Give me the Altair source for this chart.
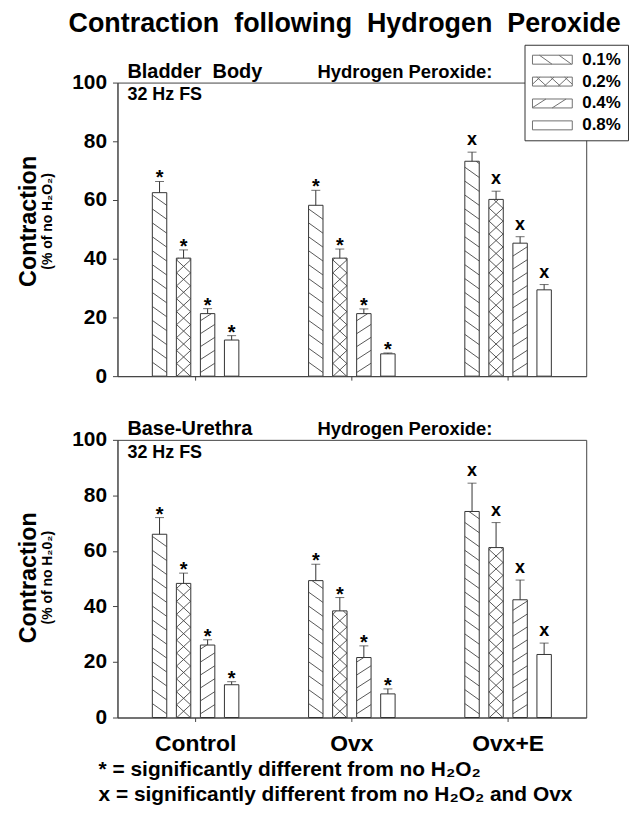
import math
import altair as alt
import pandas as pd

# ---------------- data ----------------
groups = ["Control", "Ovx", "Ovx+E"]
concentrations = ["0.1%", "0.2%", "0.4%", "0.8%"]
significance = ["*", "*", "x"]

bladder_control = [62.5, 40.2, 21.3, 12.3]
bladder_ovx = [58.2, 40.2, 21.3, 7.6]
bladder_ovx_e = [73.2, 60.2, 45.3, 29.4]
bladder_control_sem = [3.8, 2.8, 1.7, 1.5]
bladder_ovx_sem = [5.1, 3.1, 1.6, 0.3]
bladder_ovx_e_sem = [3.1, 2.8, 2.2, 1.8]

urethra_control = [66.0, 48.3, 26.1, 11.8]
urethra_ovx = [49.3, 38.4, 21.6, 8.5]
urethra_ovx_e = [74.2, 61.2, 42.4, 22.7]
urethra_control_sem = [6.0, 3.7, 1.9, 1.1]
urethra_ovx_sem = [5.9, 4.8, 4.2, 1.8]
urethra_ovx_e_sem = [10.2, 9.0, 7.1, 4.1]

# ---------------- layout / style ----------------
FONT = "Liberation Sans"
PLOT_W = 471
H_TOP = 295
H_BOT = 279
GROUP_STEP = PLOT_W / len(groups)
OFF_PAD_IN = 0.4
OFF_PAD_OUT = 0.2
BAR_STEP = 24.15
GROUP_BAND = BAR_STEP * (len(concentrations) - OFF_PAD_IN + 2 * OFF_PAD_OUT)
X_PAD_IN = 1 - GROUP_BAND / GROUP_STEP
X_PAD_OUT = X_PAD_IN / 2
BAR_W = BAR_STEP * (1 - OFF_PAD_IN)
NB = "\u00a0"

# hatch definitions: (slope in px/px, vertical period px)
HATCH = {
    "0.1%": [(10 / 14, 14)],
    "0.2%": [(13 / 14, 13), (-13 / 14, 13)],
    "0.4%": [(-9 / 14, 13)],
    "0.8%": [],
}


def hatch_segments(w, h, lines):
    segs = []
    for m, period in lines:
        c0 = h / 2 + abs(m) * w / 2
        n = int(math.ceil((h + abs(m) * w) / period)) + 1
        for k in range(n + 1):
            c = c0 - k * period
            xa = (-h / 2 - c) / m
            xb = (h / 2 - c) / m
            lo = max(-w / 2, min(xa, xb))
            hi = min(w / 2, max(xa, xb))
            if hi - lo > 1e-3:
                segs.append((lo, c + m * lo, hi, c + m * hi))
    return segs


def to_path(segs, side, rect=None):
    k = 2.0 / side
    f = lambda v: f"{v * k:.4f}"
    parts = []
    if rect is not None:
        w, h = rect
        parts.append(f"M{f(-w/2)},{f(-h/2)}L{f(w/2)},{f(-h/2)}L{f(w/2)},{f(h/2)}L{f(-w/2)},{f(h/2)}Z")
    for x1, y1, x2, y2 in segs:
        parts.append(f"M{f(x1)},{f(y1)}L{f(x2)},{f(y2)}")
    return "".join(parts) if parts else "M0,0"


def panel_df(means, sems, height):
    ppu = height / 100.0
    rows = []
    for g, mlist, slist, sym in zip(groups, means, sems, significance):
        for c, v, s in zip(concentrations, mlist, slist):
            h = v * ppu
            side = max(h, BAR_W) + 2
            rows.append(dict(group=g, conc=c, mean=v, top=v + s, mid=v / 2, sym=sym,
                             path=to_path(hatch_segments(BAR_W, h, HATCH[c]), side),
                             size=side * side))
    return pd.DataFrame(rows)


df_top = panel_df([bladder_control, bladder_ovx, bladder_ovx_e],
                  [bladder_control_sem, bladder_ovx_sem, bladder_ovx_e_sem], H_TOP)
df_bot = panel_df([urethra_control, urethra_ovx, urethra_ovx_e],
                  [urethra_control_sem, urethra_ovx_sem, urethra_ovx_e_sem], H_BOT)

SW_W, SW_H = 40, 9
SW_SIDE = SW_W + 1
swatches = [to_path(hatch_segments(SW_W, SW_H, HATCH[c]), SW_SIDE, rect=(SW_W, SW_H)) for c in concentrations]


def text_layer(text, x, y, size, align="left", angle=0, baseline="alphabetic"):
    return alt.Chart(pd.DataFrame({"t": [text]})).mark_text(
        align=align, baseline=baseline, angle=angle, fontSize=size,
        fontWeight="bold", font=FONT, color="black"
    ).encode(x=alt.value(x), y=alt.value(y), text="t:N")


def panel(df, height, name, subtitle, title_dy, show_labels, with_legend, extra):
    x_axis = alt.Axis(title=None, labels=show_labels, labelFontSize=23, labelFontWeight="bold",
                      labelPadding=11, tickSize=4, labelAngle=0, labelFont=FONT, labelColor="black")
    xenc = alt.X("group:N", sort=groups, scale=alt.Scale(paddingInner=X_PAD_IN, paddingOuter=X_PAD_OUT),
                 axis=x_axis)
    xoff = alt.XOffset("conc:N", sort=concentrations,
                       scale=alt.Scale(paddingInner=OFF_PAD_IN, paddingOuter=OFF_PAD_OUT))
    yscale = alt.Scale(domain=[0, 100], nice=False)
    yaxis = alt.Axis(title=None, values=[0, 20, 40, 60, 80, 100], labelFontSize=21, labelFontWeight="bold",
                     tickSize=5, labelPadding=6, grid=False, labelFont=FONT, labelColor="black")

    def Y(field):
        return alt.Y(f"{field}:Q", scale=yscale, axis=yaxis)

    base = alt.Chart(df).encode(x=xenc, xOffset=xoff)
    bars = base.mark_bar(fill="white", stroke="#333", strokeWidth=1).encode(y=Y("mean"))
    hatch = base.transform_filter("datum.conc != '0.8%'").mark_point(
        filled=False, color="#444", strokeWidth=0.9, opacity=1
    ).encode(y=Y("mid"), shape=alt.Shape("path:N", scale=None, legend=None),
             size=alt.Size("size:Q", scale=None, legend=None))
    whisk = base.mark_rule(color="#333", strokeWidth=1).encode(y=Y("mean"), y2="top:Q")
    cap = base.mark_tick(color="#333", thickness=1, size=9).encode(y=Y("top"))
    star = base.transform_filter("datum.sym == '*'").mark_text(
        font=FONT, fontSize=20, fontWeight="bold", baseline="alphabetic", dy=3, color="black"
    ).encode(y=Y("top"), text="sym:N")
    ex = base.transform_filter("datum.sym == 'x'").mark_text(
        font=FONT, fontSize=18, fontWeight="bold", baseline="alphabetic", dy=-7, color="black"
    ).encode(y=Y("top"), text="sym:N")

    layers = [bars, hatch, whisk, cap, star, ex,
              text_layer(name, 10, -5, 20),
              text_layer("32 Hz FS", 10, 18, 18),
              text_layer("Hydrogen Peroxide:", 201, -5, 18.5),
              text_layer("Contraction", -89, height / 2 + title_dy, 23.5, align="center", angle=270,
                         baseline="middle"),
              text_layer(subtitle, -70, height / 2 + title_dy, 14, align="center", angle=270,
                         baseline="middle")]
    layers += extra
    if with_legend:
        leg = alt.Chart(df).transform_filter("false").mark_point(
            filled=False, color="#333", strokeWidth=1
        ).encode(shape=alt.Shape(
            "conc:N", sort=concentrations,
            scale=alt.Scale(domain=concentrations, range=swatches),
            legend=alt.Legend(title=None, orient="none", legendX=409, legendY=-38, direction="vertical",
                              symbolSize=SW_SIDE * SW_SIDE, symbolStrokeWidth=1, symbolStrokeColor="#333",
                              symbolFillColor="white", labelFont=FONT, labelFontSize=17,
                              labelFontWeight="bold", labelColor="black", labelOffset=9,
                              clipHeight=16, rowPadding=5, padding=7, fillColor="white",
                              strokeColor="#333")))
        layers.append(leg)
    return alt.layer(*layers).resolve_scale(shape="independent", size="independent").properties(
        width=PLOT_W, height=height)


top = panel(df_top, H_TOP, f"Bladder{NB}{NB}Body", "(% of no H₂O₂)", -8, False, True, [])
foot = [
    text_layer("* = significantly different from no H₂O₂", -19, H_BOT + 59, 21),
    text_layer("x = significantly different from no H₂O₂ and Ovx", -19, H_BOT + 84, 21),
]
bottom = panel(df_bot, H_BOT, "Base-Urethra", "(% of no H₂0₂)", -1, True, False, foot)

chart = alt.vconcat(
    top, bottom, spacing=31,
    title=alt.Title(f"Contraction{NB}{NB}following{NB}{NB}Hydrogen{NB}{NB}Peroxide", fontSize=27,
                    font=FONT, fontWeight="bold", anchor="middle", dx=22, offset=6, color="black"),
).resolve_scale(
    x="independent", y="independent", xOffset="independent", shape="independent", size="independent"
).configure_view(stroke="#444", strokeWidth=1).configure_axis(
    domainColor="#444", tickColor="#444"
).properties(padding={"left": 8, "top": 0, "right": 0, "bottom": 0})

chart.save("out.html", embed_options={"renderer": "svg", "actions": False})
